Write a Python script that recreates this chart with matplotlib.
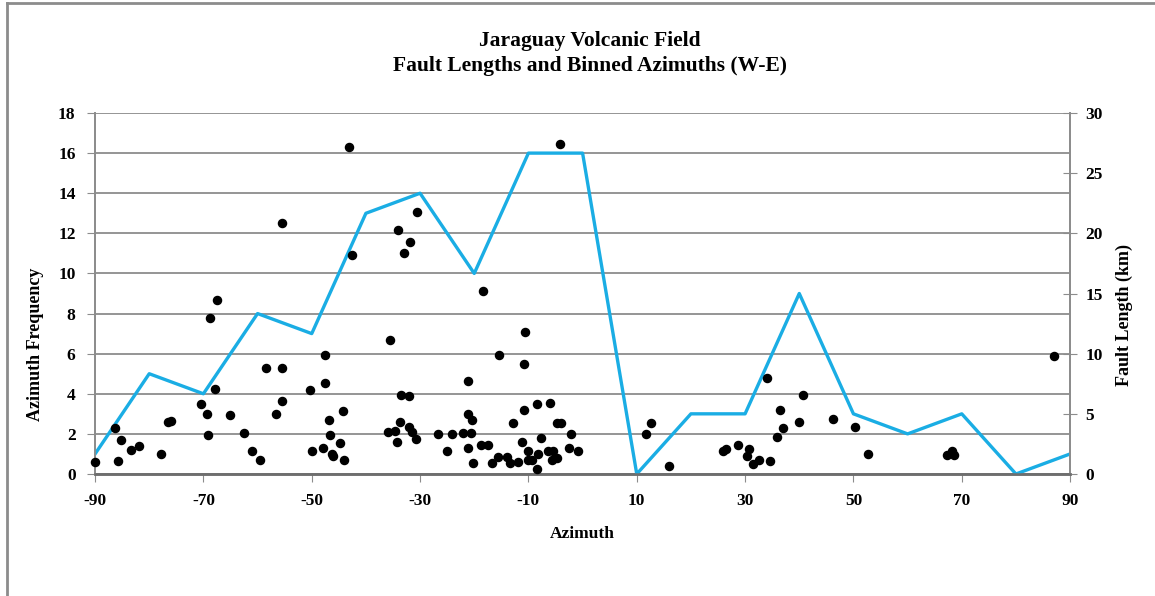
import matplotlib
matplotlib.use("Agg")
import matplotlib.pyplot as plt
from matplotlib.lines import Line2D

plt.rcParams['font.family'] = ['Liberation Serif', 'DejaVu Serif']
plt.rcParams['font.weight'] = 'bold'
plt.rcParams['axes.unicode_minus'] = False

# binned azimuth frequency (10 degree bins)
bin_centers = [-90, -80, -70, -60, -50, -40, -30, -20, -10, 0, 10, 20, 30, 40, 50, 60, 70, 80, 90]
bin_freq = [1, 5, 4, 8, 7, 13, 14, 10, 16, 16, 0, 3, 3, 9, 3, 2, 3, 0, 1]

# individual faults: azimuth (deg) and length (km)
fault_az = [-90, -86.4, -85.3, -85.7, -83.4, -81.9, -77.9, -76.6, -76.0, -70.4,
            -69.4, -69.2, -68.7, -67.5, -67.9, -65.1, -62.5, -61.0, -59.6, -58.4,
            -56.6, -55.4, -55.4, -55.4, -50.4, -49.9, -47.9, -47.6, -47.6, -46.9,
            -46.7, -46.3, -46.0, -44.8, -44.2, -44.1, -43.2, -42.6, -36.0, -35.5,
            -34.7, -34.3, -34.0, -33.7, -33.6, -33.0, -32.0, -32.0, -31.9, -31.4,
            -30.7, -30.6, -26.6, -25.0, -24.1, -22.1, -21.1, -21.1, -20.5, -20.6,
            -21.1, -20.3, -18.4, -18.7, -17.4, -16.8, -15.7, -15.5, -13.9, -13.4,
            -12.8, -11.9, -11.2, -10.9, -10.8, -10.6, -10.1, -10.0, -9.4, -8.5,
            -8.4, -8.2, -7.7, -6.3, -6.1, -5.7, -5.5, -4.8, -4.7, -4.2,
            -3.9, -2.5, -2.2, -0.9, 11.7, 12.6, 16.0, 26.0, 26.4, 28.6,
            30.3, 30.8, 31.5, 32.6, 34.0, 34.6, 35.9, 36.5, 37.0, 40.0,
            40.6, 46.3, 50.3, 52.7, 67.3, 68.2, 68.6, 87.0]
fault_len = [1.0, 3.8, 2.8, 1.1, 2.0, 2.3, 1.7, 4.3, 4.4, 5.8,
             5.0, 3.2, 13.0, 14.5, 7.1, 4.9, 3.4, 1.9, 1.2, 8.8,
             5.0, 6.1, 8.8, 20.9, 7.0, 1.9, 2.2, 7.6, 9.9, 4.5,
             3.2, 1.7, 1.5, 2.6, 5.2, 1.2, 27.2, 18.2, 3.5, 11.1,
             3.6, 2.7, 20.3, 4.3, 6.6, 18.4, 6.5, 3.9, 19.3, 3.5,
             2.9, 21.8, 3.3, 1.9, 3.3, 3.4, 7.7, 5.0, 4.5, 3.4,
             2.2, 0.9, 15.2, 2.4, 2.4, 0.9, 1.4, 9.9, 1.4, 0.9,
             4.2, 1.0, 2.7, 9.1, 5.3, 11.8, 1.9, 1.2, 1.2, 5.8,
             0.4, 1.7, 3.0, 1.9, 5.9, 1.2, 1.9, 4.2, 1.3, 27.4,
             4.2, 2.2, 3.3, 1.9, 3.3, 4.2, 0.7, 1.9, 2.1, 2.4,
             1.5, 2.1, 0.8, 1.2, 8.0, 1.1, 3.1, 5.3, 3.8, 4.3,
             6.6, 4.6, 3.9, 1.7, 1.6, 1.9, 1.6, 9.8]

fig = plt.figure(figsize=(11.55, 5.96), dpi=100)
ax = fig.add_axes([0.0823, 0.2047, 0.8442, 0.6057])
ax2 = ax.twinx()

# binned frequency line
ax.plot(bin_centers, bin_freq, color='#1AADE4', linewidth=2.4, zorder=3)
ax.set_xlim(-90, 90)
ax.set_ylim(0, 18)
ax.set_xticks(range(-90, 91, 20))
ax.set_yticks(range(0, 19, 2))
ax.grid(axis='y', color='#8c8c8c', linewidth=1.3)
ax.set_axisbelow(True)

# fault lengths on the secondary axis
ax2.scatter(fault_az, fault_len, s=34, color='black', zorder=4, clip_on=False)
ax2.set_ylim(0, 30)
ax2.set_yticks(range(0, 31, 5))

for a in (ax, ax2):
    a.spines['top'].set_visible(False)
    a.spines['left'].set_color('#8c8c8c')
    a.spines['right'].set_color('#8c8c8c')
    a.spines['bottom'].set_color('#6e6e6e')
    a.spines['left'].set_linewidth(1.3)
    a.spines['right'].set_linewidth(1.3)
    a.spines['bottom'].set_linewidth(1.8)

ax.tick_params(axis='y', direction='out', length=6, color='#8c8c8c', labelsize=12.5, pad=8)
ax.tick_params(axis='x', direction='out', length=6, color='#8c8c8c', labelsize=12.5, pad=8)
ax2.tick_params(axis='y', direction='inout', length=10, color='#8c8c8c', labelsize=12.5, pad=6)

ax.set_xlabel('Azimuth', fontsize=12.5, fontweight='bold', labelpad=12)
ax.set_ylabel('Azimuth Frequency', fontsize=13, fontweight='bold')
ax.yaxis.set_label_coords(-0.052, 0.36)
ax2.set_ylabel('Fault Length (km)', fontsize=13, fontweight='bold')
ax2.yaxis.set_label_coords(1.047, 0.44)

fig.text(0.511, 0.932, 'Jaraguay Volcanic Field', ha='center', va='center',
         fontsize=15.5, fontweight='bold')
fig.text(0.511, 0.889, 'Fault Lengths and Binned Azimuths (W-E)', ha='center', va='center',
         fontsize=15.5, fontweight='bold')

# frame edges visible in the original export
fig.add_artist(Line2D([0.006, 1.0], [0.995, 0.995], color='#8c8c8c', linewidth=2, transform=fig.transFigure))
fig.add_artist(Line2D([0.006, 0.006], [0.0, 0.995], color='#8c8c8c', linewidth=2, transform=fig.transFigure))

fig.savefig('out.png', dpi=100)
